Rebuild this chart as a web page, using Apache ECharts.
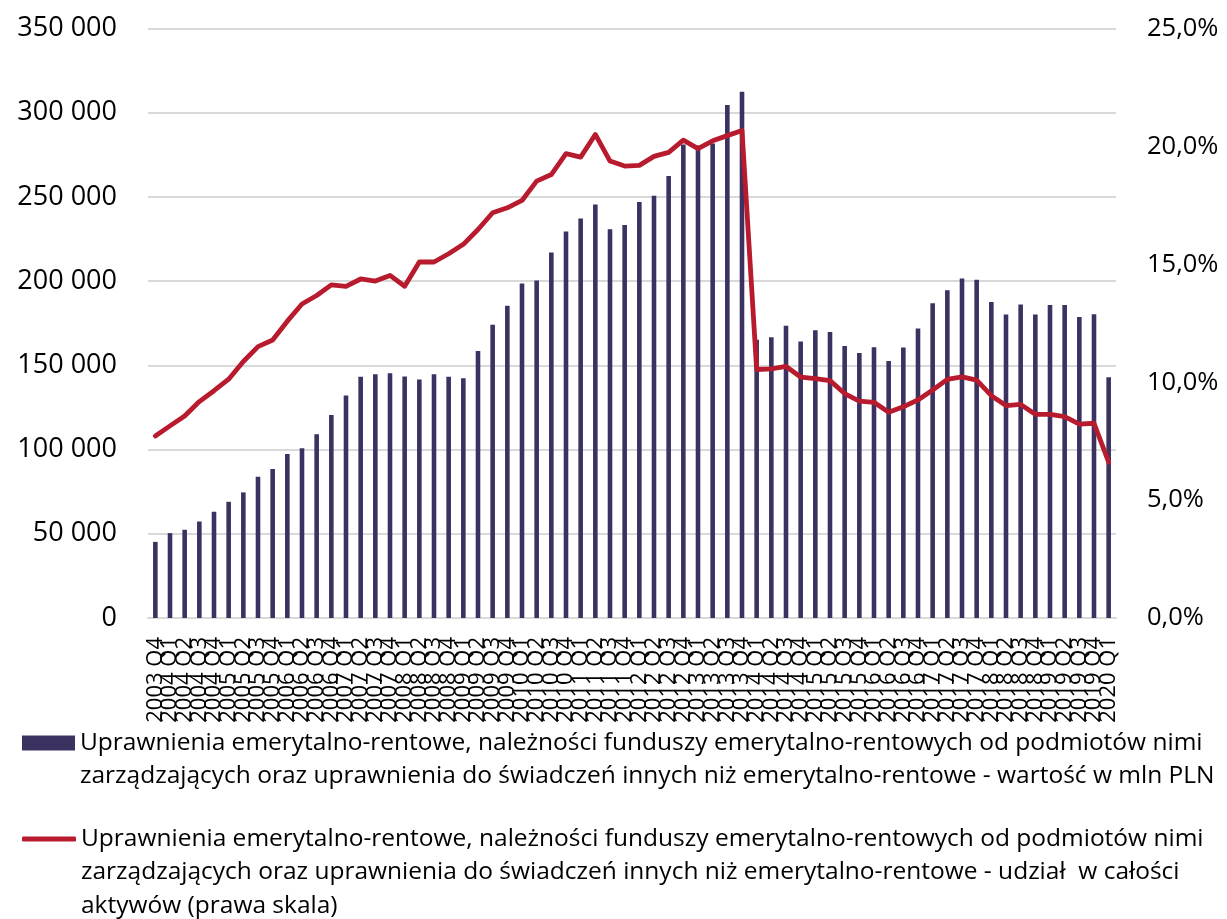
<!DOCTYPE html>
<html>
<head>
<meta charset="utf-8">
<script src="https://cdn.jsdelivr.net/npm/echarts@6/dist/echarts.min.js"></script>
<style>
html,body{margin:0;padding:0;background:#fff;}
#chart{width:1227px;height:919px;}
</style>
</head>
<body>
<div id="chart"></div>
<script>
const categories = [
 '2003 Q4',
 '2004 Q1','2004 Q2','2004 Q3','2004 Q4',
 '2005 Q1','2005 Q2','2005 Q3','2005 Q4',
 '2006 Q1','2006 Q2','2006 Q3','2006 Q4',
 '2007 Q1','2007 Q2','2007 Q3','2007 Q4',
 '2008 Q1','2008 Q2','2008 Q3','2008 Q4',
 '2009 Q1','2009 Q2','2009 Q3','2009 Q4',
 '2010 Q1','2010 Q2','2010 Q3','2010 Q4',
 '2011 Q1','2011 Q2','2011 Q3','2011 Q4',
 '2012 Q1','2012 Q2','2012 Q3','2012 Q4',
 '2013 Q1','2013 Q2','2013 Q3','2013 Q4',
 '2014 Q1','2014 Q2','2014 Q3','2014 Q4',
 '2015 Q1','2015 Q2','2015 Q3','2015 Q4',
 '2016 Q1','2016 Q2','2016 Q3','2016 Q4',
 '2017 Q1','2017 Q2','2017 Q3','2017 Q4',
 '2018 Q1','2018 Q2','2018 Q3','2018 Q4',
 '2019 Q1','2019 Q2','2019 Q3','2019 Q4',
 '2020 Q1'
];

// value in mln PLN (left axis)
const valueMlnPln = [
 45200,
 50400, 52400, 57300, 63100,
 69000, 74600, 83900, 88500,
 97400, 100800, 109100, 120600,
 132100, 143300, 144800, 145300,
 143400, 141600, 144700, 143200,
 142400, 158600, 174100, 185400,
 198700, 200400, 217100, 229500,
 237200, 245500, 230900, 233400,
 247000, 250700, 262500, 281200,
 280600, 281700, 304600, 312500,
 165200, 166700, 173500, 164200,
 170800, 169800, 161500, 157300,
 160800, 152600, 160700, 171900,
 186900, 194700, 201600, 200800,
 187700, 180200, 186200, 180200,
 185800, 185800, 178700, 180400,
 142900
];

// share of total assets, % (right axis)
const sharePct = [
 7.72,
 8.15, 8.57, 9.18, 9.64,
 10.13, 10.88, 11.51, 11.79,
 12.59, 13.32, 13.68, 14.13,
 14.07, 14.38, 14.29, 14.53,
 14.07, 15.10, 15.10, 15.45,
 15.85, 16.48, 17.19, 17.40,
 17.71, 18.53, 18.81, 19.70,
 19.55, 20.51, 19.38, 19.17,
 19.20, 19.58, 19.75, 20.27,
 19.91, 20.24, 20.46, 20.68,
 10.54, 10.57, 10.67, 10.22,
 10.15, 10.07, 9.52, 9.20,
 9.15, 8.73, 8.96, 9.25,
 9.67, 10.12, 10.23, 10.09,
 9.43, 9.01, 9.06, 8.64,
 8.64, 8.54, 8.22, 8.26,
 6.61
];

const leftTicks = [0, 50000, 100000, 150000, 200000, 250000, 300000, 350000];
const rightTicks = [0, 5, 10, 15, 20, 25];

const barName = 'Uprawnienia emerytalno-rentowe, należności funduszy emerytalno-rentowych od podmiotów nimi zarządzających oraz uprawnienia do świadczeń innych niż emerytalno-rentowe - wartość w mln PLN';
const lineName = 'Uprawnienia emerytalno-rentowe, należności funduszy emerytalno-rentowych od podmiotów nimi zarządzających oraz uprawnienia do świadczeń innych niż emerytalno-rentowe - udział  w całości aktywów (prawa skala)';
const barLegendLines = [
 'Uprawnienia emerytalno-rentowe, należności funduszy emerytalno-rentowych od podmiotów nimi',
 'zarządzających oraz uprawnienia do świadczeń innych niż emerytalno-rentowe - wartość w mln PLN'
];
const lineLegendLines = [
 'Uprawnienia emerytalno-rentowe, należności funduszy emerytalno-rentowych od podmiotów nimi',
 'zarządzających oraz uprawnienia do świadczeń innych niż emerytalno-rentowe - udział  w całości',
 'aktywów (prawa skala)'
];

const FONT = 'Open Sans';
const LH = 33.5;
const BAR_COLOR = '#3b3262';
const LINE_COLOR = '#b81b2d';

const chart = echarts.init(document.getElementById('chart'), null, {renderer: 'canvas'});

function fmtThousands(v) {
  return String(v).replace(/\B(?=(\d{3})+(?!\d))/g, ' ');
}

// blank lines in front keep the icon level with the first text line
function legendText(lines) {
  const pad = [];
  for (let i = 1; i < lines.length; i++) pad.push('');
  return pad.concat(lines).join('\n');
}

chart.setOption({
  animation: false,
  backgroundColor: '#fff',
  textStyle: {fontFamily: FONT},
  grid: {left: 148, right: 111, top: 28.6, bottom: 301, containLabel: false},
  legend: [
    {
      data: [{name: barName, icon: 'rect'}],
      orient: 'vertical',
      left: 22,
      top: 743 - 1.5 * LH,
      padding: 0,
      itemWidth: 53,
      itemHeight: 15,
      selectedMode: false,
      formatter: () => legendText(barLegendLines),
      textStyle: {fontFamily: FONT, fontSize: 24.5, color: '#000', lineHeight: LH}
    },
    {
      data: [{name: lineName, icon: 'roundRect'}],
      orient: 'vertical',
      left: 22,
      top: 839 - 2.5 * LH,
      padding: 0,
      itemWidth: 54,
      itemHeight: 5,
      selectedMode: false,
      formatter: () => legendText(lineLegendLines),
      textStyle: {fontFamily: FONT, fontSize: 24.5, color: '#000', lineHeight: LH}
    }
  ],
  xAxis: {
    type: 'category',
    data: categories,
    boundaryGap: true,
    axisTick: {show: false},
    axisLine: {show: true, lineStyle: {color: '#d9d9d9', width: 2}},
    axisLabel: {interval: 0, rotate: 90, fontFamily: FONT, fontSize: 22, color: '#000', margin: 19}
  },
  yAxis: [
    {
      type: 'value',
      min: leftTicks[0],
      max: leftTicks[leftTicks.length - 1],
      interval: leftTicks[1] - leftTicks[0],
      axisLine: {show: false},
      axisTick: {show: false},
      splitLine: {show: true, lineStyle: {color: '#d9d9d9', width: 2}},
      axisLabel: {fontFamily: FONT, fontSize: 27, color: '#000', margin: 31, formatter: fmtThousands}
    },
    {
      type: 'value',
      position: 'right',
      min: rightTicks[0],
      max: rightTicks[rightTicks.length - 1],
      interval: rightTicks[1] - rightTicks[0],
      axisLine: {show: false},
      axisTick: {show: false},
      splitLine: {show: false},
      axisLabel: {fontFamily: FONT, fontSize: 25.5, color: '#000', margin: 31,
        formatter: v => v.toFixed(1).replace('.', ',') + '%'}
    }
  ],
  series: [
    {
      name: barName,
      type: 'bar',
      data: valueMlnPln,
      barWidth: 4.6,
      itemStyle: {color: BAR_COLOR},
      yAxisIndex: 0
    },
    {
      name: lineName,
      type: 'line',
      data: sharePct,
      yAxisIndex: 1,
      symbol: 'none',
      showSymbol: false,
      lineStyle: {color: LINE_COLOR, width: 4.8, cap: 'round', join: 'round'},
      itemStyle: {color: LINE_COLOR}
    }
  ]
});
</script>
</body>
</html>
